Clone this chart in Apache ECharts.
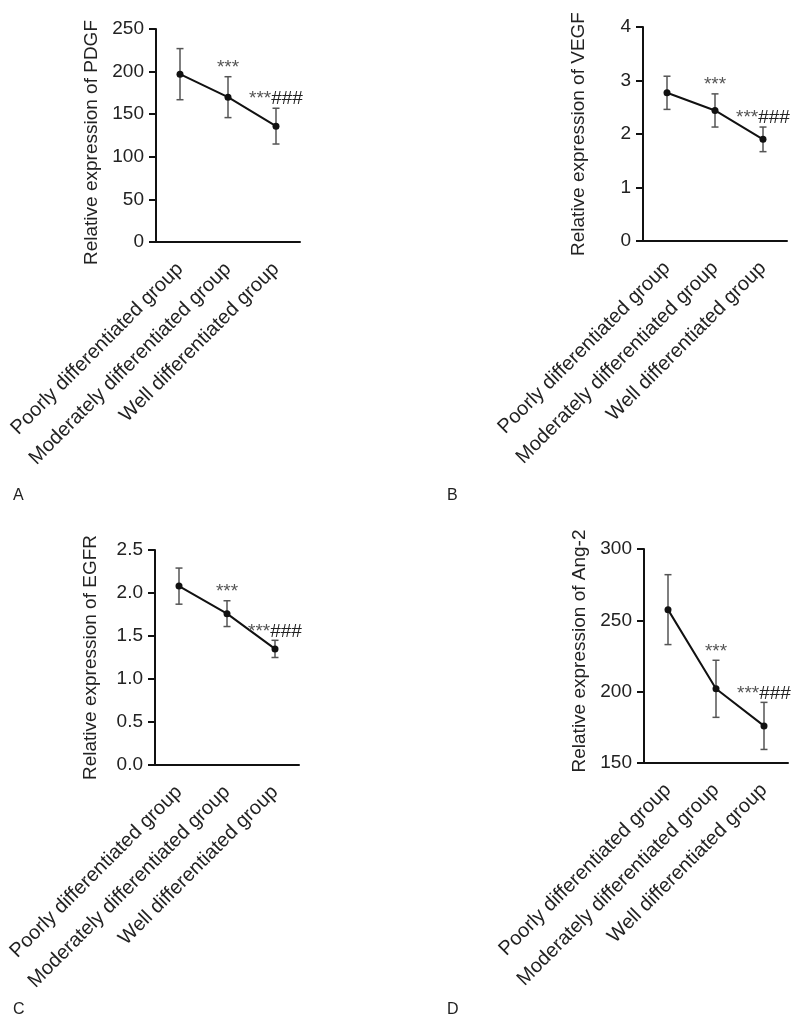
<!DOCTYPE html>
<html>
<head>
<meta charset="utf-8">
<script src="https://cdn.jsdelivr.net/npm/echarts@6/dist/echarts.min.js"></script>
<style>
html,body{margin:0;padding:0;background:#fff;}
#chart{width:800px;height:1023px;}
</style>
</head>
<body>
<div id="chart"></div>
<script>
// ---- data ----
var categories = ['Poorly differentiated group', 'Moderately differentiated group', 'Well differentiated group'];
var annotations = ['', '***', '***###'];

var pdgfMean = [197, 170, 136];
var pdgfSD   = [30, 24, 21];
var vegfMean = [2.77, 2.44, 1.90];
var vegfSD   = [0.31, 0.31, 0.23];
var egfrMean = [2.08, 1.76, 1.35];
var egfrSD   = [0.21, 0.15, 0.10];
var ang2Mean = [257.5, 202, 176];
var ang2SD   = [24.5, 20, 16.5];

var panelTitles = ['Relative expression of PDGF', 'Relative expression of VEGF', 'Relative expression of EGFR', 'Relative expression of Ang-2'];
var panelLetters = ['A', 'B', 'C', 'D'];
var yMin = [0, 0, 0, 150];
var yMax = [250, 4, 2.5, 300];
var yInterval = [50, 1, 0.5, 50];
var yDecimals = [0, 0, 1, 0];

// ---- layout ----
var FONT = '"Liberation Sans", Arial, Helvetica, sans-serif';
var grids = [
  {left: 156, top: 29, width: 144, height: 213},
  {left: 643, top: 27, width: 144, height: 214},
  {left: 155, top: 550, width: 144, height: 215},
  {left: 644, top: 549, width: 144, height: 214}
];
var titlePadding = [[0, 14, 0, 0], [0, 0, 0, 0], [0, 0, 0, 0], [0, 0, 0, 10]];
var letterPos = [[13, 488], [447, 488], [13, 1002], [447, 1002]];

var means = [pdgfMean, vegfMean, egfrMean, ang2Mean];
var sds = [pdgfSD, vegfSD, egfrSD, ang2SD];

var xAxes = [], yAxes = [], series = [], graphics = [];

grids.forEach(function (g, i) {
  xAxes.push({
    type: 'category', gridIndex: i, data: categories, boundaryGap: true,
    axisLine: {lineStyle: {color: '#111', width: 2}},
    axisTick: {alignWithLabel: true, length: 7, lineStyle: {color: '#111', width: 2}},
    axisLabel: {rotate: 45, margin: 24, fontSize: 20, color: '#222', fontFamily: FONT, interval: 0}
  });
  yAxes.push({
    type: 'value', gridIndex: i, min: yMin[i], max: yMax[i], interval: yInterval[i],
    name: panelTitles[i], nameLocation: 'middle', nameGap: 55,
    nameTextStyle: {fontSize: 19, color: '#222', fontFamily: FONT, padding: titlePadding[i]},
    axisLine: {show: true, lineStyle: {color: '#111', width: 2}},
    axisTick: {show: true, length: 7, lineStyle: {color: '#111', width: 2}},
    splitLine: {show: false},
    axisLabel: {fontSize: 19, color: '#222', fontFamily: FONT, margin: 12,
      formatter: (function (d) { return function (v) { return v.toFixed(d); }; })(yDecimals[i])}
  });

  var m = means[i], s = sds[i];
  var errData = m.map(function (v, k) { return [k, v - s[k], v + s[k]]; });
  series.push({
    type: 'custom', xAxisIndex: i, yAxisIndex: i, z: 2,
    data: errData,
    renderItem: function (params, api) {
      var lo = api.coord([api.value(0), api.value(1)]);
      var hi = api.coord([api.value(0), api.value(2)]);
      var w = 3.5;
      var st = {stroke: '#555', lineWidth: 1.5};
      return {type: 'group', children: [
        {type: 'line', shape: {x1: lo[0], y1: lo[1], x2: hi[0], y2: hi[1]}, style: st},
        {type: 'line', shape: {x1: lo[0] - w, y1: lo[1], x2: lo[0] + w, y2: lo[1]}, style: st},
        {type: 'line', shape: {x1: hi[0] - w, y1: hi[1], x2: hi[0] + w, y2: hi[1]}, style: st}
      ]};
    }
  });
  series.push({
    type: 'line', xAxisIndex: i, yAxisIndex: i, z: 3, data: m,
    symbol: 'circle', symbolSize: 7,
    lineStyle: {color: '#111', width: 2},
    itemStyle: {color: '#111'},
    animation: false
  });
  var annData = m.map(function (v, k) { return [k, v + s[k], annotations[k]]; });
  series.push({
    type: 'custom', xAxisIndex: i, yAxisIndex: i, z: 4,
    data: annData,
    renderItem: function (params, api) {
      var idx = params.dataIndex;
      var txt = annData[idx][2];
      if (!txt) return null;
      var p = api.coord([api.value(0), api.value(1)]);
      var stars = txt.replace(/#/g, '');
      var hashes = txt.replace(/\*/g, '');
      var str = (stars ? '{a|' + stars + '}' : '') + (hashes ? '{b|' + hashes + '}' : '');
      return {type: 'text', x: p[0], y: p[1] - 9,
        style: {text: str, align: 'center', verticalAlign: 'middle',
          rich: {
            a: {fontSize: 19, fontFamily: FONT, fill: '#555', color: '#555'},
            b: {fontSize: 19, fontFamily: FONT, fill: '#222', color: '#222'}
          }}};
    }
  });
  graphics.push({type: 'text', left: letterPos[i][0], top: letterPos[i][1],
    style: {text: panelLetters[i], fontSize: 16, fontFamily: FONT, fill: '#222'}});
});

var chart = echarts.init(document.getElementById('chart'), null, {renderer: 'canvas'});
chart.setOption({
  animation: false,
  backgroundColor: '#fff',
  grid: grids,
  xAxis: xAxes,
  yAxis: yAxes,
  series: series,
  graphic: graphics
});
</script>
</body>
</html>
